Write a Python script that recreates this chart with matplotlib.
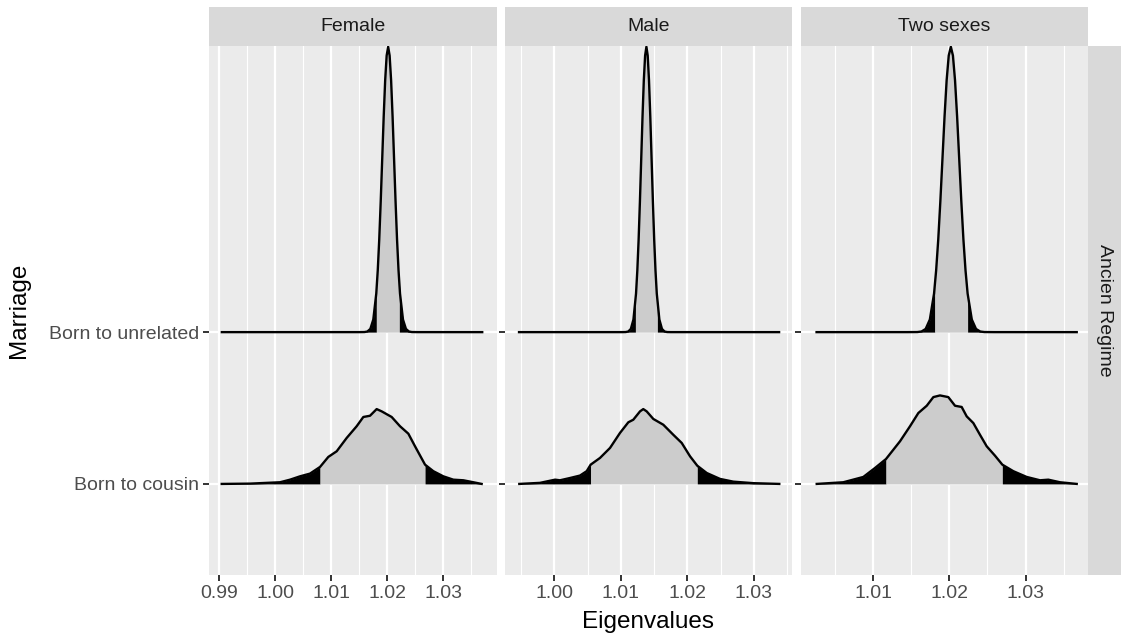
import numpy as np
import matplotlib.pyplot as plt

plt.rcParams['font.family'] = ['Liberation Sans', 'DejaVu Sans']

# facet names and row labels
panels = ['Female', 'Male', 'Two sexes']
rows = ['Born to cousin', 'Born to unrelated']
row_strip = 'Ancien Regime'

# ridge outlines: x = eigenvalue, h = ridge height (in row units)
fem_cousin_x = [0.99048, 0.99554, 1.00089, 1.00268, 1.00446, 1.00625, 1.00804, 1.00952, 1.01101,
                1.01280, 1.01458, 1.01577, 1.01696, 1.01815, 1.01905, 1.02083, 1.02232, 1.02381,
                1.02500, 1.02679, 1.02827, 1.03006, 1.03184, 1.03363, 1.03542, 1.03690]
fem_cousin_h = [0, 0.002, 0.011, 0.028, 0.050, 0.068, 0.112, 0.178, 0.215, 0.303, 0.380, 0.441,
                0.449, 0.493, 0.478, 0.441, 0.380, 0.331, 0.248, 0.127, 0.084, 0.050, 0.028,
                0.024, 0.011, 0]

# the three narrow peaks share one height profile
peak_h = [0, 0.0001, 0.0006, 0.004, 0.021, 0.083, 0.254, 0.407, 0.610, 0.861, 1.140, 1.419,
          1.659, 1.822, 1.88, 1.822, 1.659, 1.419, 1.140, 0.861, 0.610, 0.407, 0.254, 0.083,
          0.021, 0.004, 0.0006, 0.0001, 0]

fem_unrel_x = [0.9905, 1.0150, 1.01596, 1.01649, 1.01702, 1.01755, 1.01808, 1.018345, 1.01861,
               1.018875, 1.01914, 1.019405, 1.01967, 1.019935, 1.0202, 1.020465, 1.02073,
               1.020995, 1.02126, 1.021525, 1.02179, 1.022055, 1.02232, 1.02285, 1.02338,
               1.02391, 1.02444, 1.0255, 1.0370]
fem_unrel_h = peak_h

male_cousin_x = [0.99474, 0.99785, 1.00011, 1.00086, 1.00236, 1.00386, 1.00487, 1.00547, 1.00687,
                 1.00838, 1.00988, 1.01113, 1.01188, 1.01289, 1.01338, 1.01389, 1.01489, 1.01639,
                 1.01789, 1.01916, 1.02041, 1.02150, 1.02292, 1.02492, 1.02692, 1.02992, 1.03383]
male_cousin_h = [0, 0.007, 0.028, 0.024, 0.039, 0.055, 0.084, 0.127, 0.171, 0.237, 0.336, 0.406,
                 0.423, 0.478, 0.493, 0.478, 0.428, 0.390, 0.324, 0.270, 0.182, 0.120, 0.072,
                 0.033, 0.015, 0.005, 0]
male_unrel_x = [0.9947, 1.0102, 1.01073, 1.01112, 1.01151, 1.01190, 1.01229, 1.012485, 1.01268,
                1.012875, 1.01307, 1.013265, 1.01346, 1.013655, 1.01385, 1.014045, 1.01424,
                1.014435, 1.01463, 1.014825, 1.01502, 1.015215, 1.01541, 1.01580, 1.01619,
                1.01658, 1.01697, 1.0175, 1.0338]
male_unrel_h = peak_h

two_cousin_x = [1.00262, 1.00611, 1.00873, 1.01026, 1.01170, 1.01354, 1.01485, 1.01594, 1.01704,
                1.01791, 1.01878, 1.01987, 1.02075, 1.02162, 1.02228, 1.02315, 1.02402, 1.02490,
                1.02599, 1.02695, 1.02839, 1.03014, 1.03189, 1.03298, 1.03451, 1.03670]
two_cousin_h = [0, 0.011, 0.046, 0.105, 0.164, 0.281, 0.380, 0.467, 0.515, 0.572, 0.583, 0.572,
                0.515, 0.507, 0.445, 0.401, 0.324, 0.248, 0.186, 0.127, 0.084, 0.046, 0.024,
                0.028, 0.011, 0]
two_unrel_x = [1.0026, 1.0145, 1.0158, 1.01635, 1.0169, 1.01745, 1.0180, 1.018275, 1.01855,
               1.018825, 1.0191, 1.019375, 1.01965, 1.019925, 1.0202, 1.020475, 1.02075,
               1.021025, 1.0213, 1.021575, 1.02185, 1.022125, 1.0224, 1.02295, 1.0235, 1.02405,
               1.0246, 1.0259, 1.0367]
two_unrel_h = peak_h

# 95% interval bounds (grey centre, black tails)
fem_lims = [(1.00804, 1.02679), (1.0181, 1.0222)]
male_lims = [(1.00547, 1.02150), (1.0122, 1.0155)]
two_lims = [(1.01170, 1.02695), (1.0181, 1.0224)]

# x ticks and limits for each facet
fem_ticks = [0.99, 1.00, 1.01, 1.02, 1.03]
male_ticks = [1.00, 1.01, 1.02, 1.03]
two_ticks = [1.01, 1.02, 1.03]
fem_xlim = (0.98821, 1.03964)
male_xlim = (0.99259, 1.03574)
two_xlim = (1.00056, 1.03818)

ridges = [
    [(fem_cousin_x, fem_cousin_h), (fem_unrel_x, fem_unrel_h)],
    [(male_cousin_x, male_cousin_h), (male_unrel_x, male_unrel_h)],
    [(two_cousin_x, two_cousin_h), (two_unrel_x, two_unrel_h)],
]
lims = [fem_lims, male_lims, two_lims]
ticks = [fem_ticks, male_ticks, two_ticks]
xlims = [fem_xlim, male_xlim, two_xlim]

W, H = 1121, 639
fig = plt.figure(figsize=(W / 100, H / 100), dpi=100)

panel_px = [(209, 497), (505, 792), (801, 1088)]
top_px, bot_px = 46, 575
strip_h = 39
small = 14
big = 17.5


def fig_box(x0, x1, y0, y1):
    # pixel box (y from top) -> figure fraction rect
    return [x0 / W, (H - y1) / H, (x1 - x0) / W, (y1 - y0) / H]


for i, name in enumerate(panels):
    x0, x1 = panel_px[i]
    ax = fig.add_axes(fig_box(x0, x1, top_px, bot_px))
    ax.set_facecolor('#EBEBEB')
    for s in ax.spines.values():
        s.set_visible(False)
    ax.set_xlim(*xlims[i])
    ax.set_ylim(0.4, 3.885)

    # grid
    t = ticks[i]
    minors = np.arange(t[0] - 0.015, t[-1] + 0.015, 0.01)
    for m in minors:
        ax.axvline(m, color='white', lw=0.8, zorder=0)
    for m in t:
        ax.axvline(m, color='white', lw=1.6, zorder=0)
    for yy in [1, 2]:
        ax.axhline(yy, color='white', lw=1.6, zorder=0)

    # ridges, drawn from the top row down so the lower one sits in front
    for r in [1, 0]:
        xs = np.array(ridges[i][r][0])
        hs = np.array(ridges[i][r][1])
        lo, hi = lims[i][r]
        base = r + 1
        z = 2 + 2 * (1 - r)
        xx = np.sort(np.concatenate([xs, [lo, hi]]))
        yy = np.interp(xx, xs, hs) + base
        ax.fill_between(xx, base, yy, where=xx <= lo, color='black', lw=0, zorder=z)
        ax.fill_between(xx, base, yy, where=(xx >= lo) & (xx <= hi), color='#CCCCCC', lw=0, zorder=z)
        ax.fill_between(xx, base, yy, where=xx >= hi, color='black', lw=0, zorder=z)
        ax.plot(xx, yy, color='black', lw=1.7, zorder=z + 1, solid_joinstyle='round')

    ax.set_xticks(t)
    ax.set_xticklabels(['%.2f' % v for v in t])
    ax.set_yticks([1, 2])
    if i == 0:
        ax.set_yticklabels(rows)
    else:
        ax.set_yticklabels([])
        ax.tick_params(axis='y', length=0)
    ax.tick_params(colors='#333333', labelcolor='#4D4D4D', labelsize=small, length=4.2,
                   width=1.4, pad=3)

    # top strip
    sax = fig.add_axes(fig_box(x0, x1, top_px - strip_h, top_px))
    sax.set_facecolor('#D9D9D9')
    sax.set_xticks([])
    sax.set_yticks([])
    for s in sax.spines.values():
        s.set_visible(False)
    sax.text(0.5, 0.5, name, ha='center', va='center', fontsize=small, color='#1A1A1A',
             transform=sax.transAxes)

# right strip
rax = fig.add_axes(fig_box(1088, 1121, top_px, bot_px))
rax.set_facecolor('#D9D9D9')
rax.set_xticks([])
rax.set_yticks([])
for s in rax.spines.values():
    s.set_visible(False)
rax.text(0.5, 0.5, row_strip, ha='center', va='center', rotation=-90, fontsize=small,
         color='#1A1A1A', transform=rax.transAxes)

fig.text((209 + 1088) / 2 / W, 1 - 622 / H, 'Eigenvalues', ha='center', va='center', fontsize=big)
fig.text(19 / W, 1 - 310 / H, 'Marriage', ha='center', va='center', rotation=90, fontsize=big)

fig.savefig('out.png', dpi=100)
